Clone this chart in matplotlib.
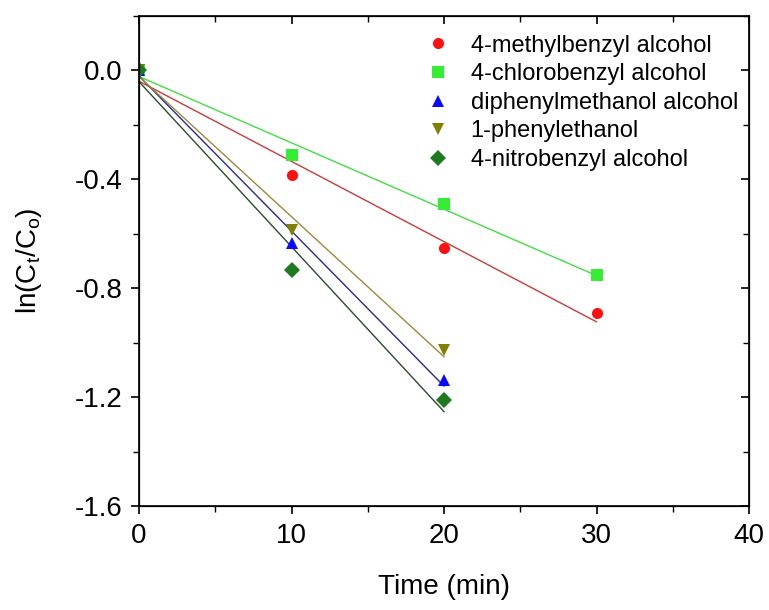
import matplotlib
matplotlib.use("Agg")
import matplotlib.pyplot as plt
import numpy as np
from matplotlib.ticker import MultipleLocator

# data
names = ["4-methylbenzyl alcohol", "4-chlorobenzyl alcohol",
         "diphenylmethanol alcohol", "1-phenylethanol", "4-nitrobenzyl alcohol"]
t_long = [0, 10, 20, 30]
t_short = [0, 10, 20]
methyl = [0.0, -0.385, -0.653, -0.892]
chloro = [0.0, -0.312, -0.492, -0.752]
diphenyl = [0.0, -0.635, -1.138]
phenylethanol = [0.0, -0.587, -1.028]
nitro = [0.0, -0.734, -1.211]

series = [(t_long, methyl), (t_long, chloro), (t_short, diphenyl),
          (t_short, phenylethanol), (t_short, nitro)]
markers = ["o", "s", "^", "v", "D"]
msizes = [8, 8, 9, 9, 8]
colors = ["#ff1010", "#33ee33", "#0a0aff", "#808000", "#1e7a1e"]
linecolors = ["#c83c3c", "#44dd44", "#2a2a90", "#9a8a3a", "#2c4c2c"]

plt.rcParams['font.family'] = ['Liberation Sans', 'DejaVu Sans']

fig = plt.figure(figsize=(7.69, 6.10), dpi=100)
ax = fig.add_axes([0.1808, 0.1705, 0.7932, 0.804])

for (t, y), name, m, ms, c, lc in zip(series, names, markers, msizes, colors, linecolors):
    t = np.array(t, dtype=float)
    y = np.array(y)
    ax.plot(t, y, linestyle="none", marker=m, markersize=ms, color=c,
            markeredgewidth=0, label=name, zorder=3)
    # linear fit through the points
    k, b = np.polyfit(t, y, 1)
    tt = np.array([0, t.max()])
    ax.plot(tt, k * tt + b, color=lc, linewidth=1.0, zorder=2)

ax.set_xlim(0, 40)
ax.set_ylim(-1.6, 0.2)
ax.xaxis.set_major_locator(MultipleLocator(10))
ax.xaxis.set_minor_locator(MultipleLocator(5))
ax.yaxis.set_major_locator(MultipleLocator(0.4))
ax.yaxis.set_minor_locator(MultipleLocator(0.2))
ax.set_yticks([0.0, -0.4, -0.8, -1.2, -1.6])
ax.set_yticklabels(["0.0", "-0.4", "-0.8", "-1.2", "-1.6"])

ax.tick_params(axis="both", which="major", labelsize=20, length=6, width=1.2)
ax.tick_params(axis="y", which="major", pad=6)
ax.tick_params(axis="x", which="major", pad=6)
ax.tick_params(axis="both", which="minor", length=4, width=1.0)
ax.tick_params(axis="x", which="both", direction="out", top=False)
ax.tick_params(axis="y", which="both", direction="out", right=False)
for sp in ax.spines.values():
    sp.set_linewidth(1.2)

# inward ticks on the top and right spines
axt = ax.twiny()
axt.set_xlim(ax.get_xlim())
axt.xaxis.set_major_locator(MultipleLocator(10))
axt.xaxis.set_minor_locator(MultipleLocator(5))
axt.tick_params(axis="x", which="both", direction="in", labeltop=False)
axt.tick_params(which="major", length=6, width=1.2)
axt.tick_params(which="minor", length=4, width=1.0)
axr = ax.twinx()
axr.set_ylim(ax.get_ylim())
axr.yaxis.set_major_locator(MultipleLocator(0.4))
axr.yaxis.set_minor_locator(MultipleLocator(0.2))
axr.tick_params(axis="y", which="both", direction="in", labelright=False)
axr.tick_params(which="major", length=6, width=1.2)
axr.tick_params(which="minor", length=4, width=1.0)

ax.set_xlabel("Time (min)", fontsize=20, labelpad=18)
ax.set_ylabel(r"ln(C$_\mathregular{t}$/C$_\mathregular{o}$)", fontsize=20, labelpad=22)

ax.legend(loc="upper left", bbox_to_anchor=(0.443, 0.99), frameon=False,
          fontsize=17, handletextpad=0.8, labelspacing=0.28, handlelength=1.2,
          borderaxespad=0.2)

fig.savefig("out.png", dpi=100)
